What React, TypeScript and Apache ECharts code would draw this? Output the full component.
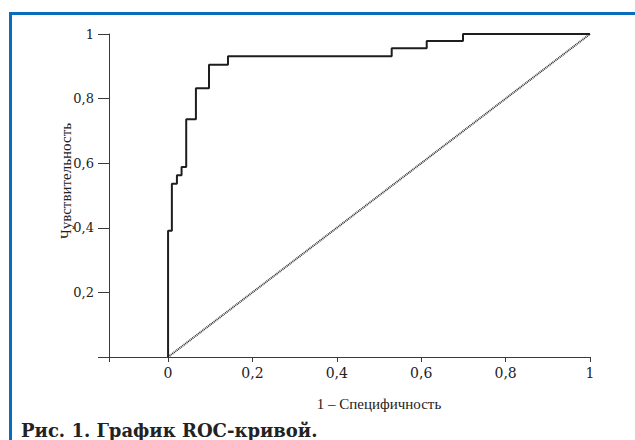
import React, { useEffect, useRef } from "react";
import * as echarts from "echarts";

// ROC curve corner points (1 - specificity, sensitivity); each step goes right, then up
const fpr = [0, 0, 0.009, 0.021, 0.032, 0.043, 0.066, 0.097, 0.142, 0.53, 0.613, 0.699, 1];
const tpr = [0, 0.391, 0.536, 0.563, 0.588, 0.736, 0.832, 0.905, 0.931, 0.956, 0.978, 1, 1];
// reference diagonal
const diagX = [0, 1];
const diagY = [0, 1];
const xTicks = [-0.14, 0, 0.2, 0.4, 0.6, 0.8, 1];
const xLabels = [0, 0.2, 0.4, 0.6, 0.8, 1];
const yTicks = [0, 0.2, 0.4, 0.6, 0.8, 1];
const yLabels = [0.2, 0.4, 0.6, 0.8, 1];
const xName = "1 – Специфичность";
const yName = "Чувствительность";
const caption = "Рис. 1. График ROC-кривой.";

const fmt = (v: number) => String(v).replace(".", ",");

const SERIF = "'DejaVu Serif', serif";
const SERIF2 = "'Liberation Serif', serif";

export default function App() {
  const ref = useRef<HTMLDivElement>(null);
  useEffect(() => {
    if (!ref.current) return;
    const chart = echarts.init(ref.current, null, { renderer: "svg" });
    const axisColor = "#3a3a3a";
    const roc: number[][] = [[fpr[0], tpr[0]]];
    for (let i = 1; i < fpr.length; i++) {
      roc.push([fpr[i], tpr[i - 1]]);
      roc.push([fpr[i], tpr[i]]);
    }
    chart.setOption({
      animation: false,
      backgroundColor: "#fff",
      grid: { left: 109, right: 45, top: 34, bottom: 83 },
      xAxis: {
        type: "value",
        min: -0.14,
        max: 1,
        splitLine: { show: false },
        axisLine: { show: true, onZero: false, lineStyle: { color: axisColor, width: 1 } },
        axisTick: {
          show: true,
          length: 5,
          customValues: xTicks,
          lineStyle: { color: axisColor, width: 1 },
        },
        axisLabel: {
          color: "#222",
          fontFamily: SERIF,
          fontSize: 14,
          margin: 9,
          customValues: xLabels,
          formatter: (v: number) => fmt(v),
        },
      },
      yAxis: {
        type: "value",
        min: 0,
        max: 1,
        splitLine: { show: false },
        axisLine: { show: true, onZero: false, lineStyle: { color: axisColor, width: 1 } },
        axisTick: {
          show: true,
          length: 11,
          customValues: yTicks,
          lineStyle: { color: axisColor, width: 1 },
        },
        axisLabel: {
          color: "#222",
          fontFamily: SERIF,
          fontSize: 13,
          margin: 15,
          customValues: yLabels,
          formatter: (v: number) => fmt(v),
        },
      },
      series: [
        {
          type: "line",
          data: diagX.map((x, i) => [x, diagY[i]]),
          symbol: "none",
          lineStyle: { color: "#333", width: 2, type: [1, 0.8] },
          z: 2,
        },
        {
          type: "line",
          data: roc,
          symbol: "none",
          lineStyle: { color: "#1e1e1e", width: 2 },
          z: 3,
        },
      ],
      graphic: [
        {
          type: "rect",
          shape: { x: 9, y: 12, width: 3, height: 440 },
          style: { fill: "#0a6cbd" },
        },
        {
          type: "rect",
          shape: { x: 9, y: 12, width: 640, height: 3 },
          style: { fill: "#0a6cbd" },
        },
        {
          type: "text",
          x: 379,
          y: 404,
          style: {
            text: xName,
            font: "15px " + SERIF2,
            fill: "#222",
            align: "center",
            verticalAlign: "middle",
          },
        },
        {
          type: "text",
          x: 66,
          y: 181,
          rotation: Math.PI / 2,
          style: {
            text: yName,
            font: "15px " + SERIF2,
            fill: "#222",
            align: "center",
            verticalAlign: "middle",
          },
        },
        {
          type: "text",
          x: 21,
          y: 430,
          style: {
            text: caption,
            font: "bold 18px " + SERIF,
            fill: "#222",
            align: "left",
            verticalAlign: "middle",
          },
        },
      ],
    });
    return () => chart.dispose();
  }, []);
  return (
    <div
      ref={ref}
      style={{ position: "fixed", left: 0, top: 0, width: 635, height: 440, background: "#fff" }}
    />
  );
}
